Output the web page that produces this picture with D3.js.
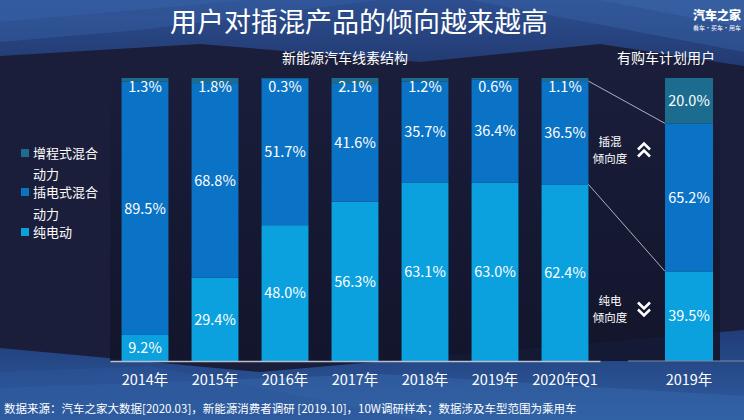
<!DOCTYPE html>
<html><head><meta charset="utf-8">
<script src="https://cdn.jsdelivr.net/npm/d3@7/dist/d3.min.js"></script>
<style>
html,body{margin:0;padding:0;background:#1a1e3b;}
svg{display:block;}
text{font-family:"Microsoft YaHei","Noto Sans CJK SC","Noto Sans",sans-serif;fill:#fff;}
</style></head>
<body>
<script>
// ---- data ----
const categories = ["2014年","2015年","2016年","2017年","2018年","2019年","2020年Q1"];
const erev = [1.3, 1.8, 0.3, 2.1, 1.2, 0.6, 1.1];      // 增程式混合动力
const phev = [89.5, 68.8, 51.7, 41.6, 35.7, 36.4, 36.5]; // 插电式混合动力
const bev  = [9.2, 29.4, 48.0, 56.3, 63.1, 63.0, 62.4];  // 纯电动
const rightCategory = ["2019年"];
const rightErev = [20.0];
const rightPhev = [65.2];
const rightBev  = [39.5];
const seriesNames = ["增程式混合动力","插电式混合动力","纯电动"];
const colors = ["#1b6c8e","#0a73c6","#0aa1de"];

const W = 744, H = 420;
const svg = d3.select("body").append("svg").attr("width", W).attr("height", H);

// ---- background ----
const defs = svg.append("defs");
const g1 = defs.append("linearGradient").attr("id","topg").attr("x1",0).attr("y1",0).attr("x2",0).attr("y2",1);
g1.append("stop").attr("offset","0%").attr("stop-color","#2d4f90");
g1.append("stop").attr("offset","100%").attr("stop-color","#223a72");
const g2 = defs.append("linearGradient").attr("id","botg").attr("x1",0).attr("y1",0).attr("x2",0).attr("y2",1);
g2.append("stop").attr("offset","0%").attr("stop-color","#213c78");
g2.append("stop").attr("offset","100%").attr("stop-color","#2f5ea2");
const g3 = defs.append("linearGradient").attr("id","panelg").attr("x1",0).attr("y1",0).attr("x2",0).attr("y2",1);
g3.append("stop").attr("offset","0%").attr("stop-color","#12142a").attr("stop-opacity",0);
g3.append("stop").attr("offset","50%").attr("stop-color","#12142a").attr("stop-opacity",0.5);
g3.append("stop").attr("offset","100%").attr("stop-color","#12142a").attr("stop-opacity",0.9);

svg.append("rect").attr("width",W).attr("height",H).attr("fill","#1a1e3b");
const poly = (pts, fill, op) => svg.append("polygon").attr("points", pts.map(p=>p.join(",")).join(" ")).attr("fill", fill).attr("opacity", op||1);
poly([[0,0],[744,0],[744,66],[600,44],[420,62],[200,44],[0,56]], "url(#topg)");
poly([[0,0],[380,0],[140,30],[0,42]], "#3560a3", 0.45);
poly([[0,0],[250,0],[0,22]], "#3a68ab", 0.35);
poly([[470,0],[744,0],[744,52]], "#3966a9", 0.4);
poly([[600,0],[744,0],[744,28]], "#4272b5", 0.3);
poly([[0,348],[260,372],[744,330],[744,420],[0,420]], "url(#botg)");
poly([[0,388],[380,374],[744,396],[744,420],[0,420]], "#3566aa", 0.55);
poly([[0,372],[150,366],[420,420],[0,420]], "#2c5699", 0.5);
// soft dark plot panel
svg.append("rect").attr("x",110).attr("y",70).attr("width",610).attr("height",291).attr("fill","url(#panelg)");

// ---- scales ----
const x = d3.scaleBand().domain(categories).range([110,600]).paddingInner(0.33).paddingOuter(0.165);
const xr = d3.scaleBand().domain(rightCategory).range([641,737]).paddingInner(0.5).paddingOuter(0.25);
const y = d3.scaleLinear().domain([0,1]).range([361,78]);

function buildRows(cats, a, b, c){
  return cats.map((cat,i)=>{
    const vals=[a[i],b[i],c[i]];
    const sum=d3.sum(vals);
    return {cat, erev:a[i], phev:b[i], bev:c[i], n0:a[i]/sum, n1:b[i]/sum, n2:c[i]/sum};
  });
}
const rows = buildRows(categories, erev, phev, bev);
const rrows = buildRows(rightCategory, rightErev, rightPhev, rightBev);
const stack = d3.stack().keys(["n2","n1","n0"]);
const rawKey = {n2:"bev", n1:"phev", n0:"erev"};
const colorKey = {n0:colors[0], n1:colors[1], n2:colors[2]};

function drawStack(data, xs){
  const layers = stack(data);
  const g = svg.append("g");
  layers.forEach(layer=>{
    g.selectAll(null).data(layer).enter().append("rect")
      .attr("x", d=>xs(d.data.cat)).attr("width", xs.bandwidth())
      .attr("y", d=>y(d[1])).attr("height", d=>y(d[0])-y(d[1]))
      .attr("fill", colorKey[layer.key]);
  });
  layers.forEach(layer=>{
    g.selectAll(null).data(layer).enter().append("text")
      .attr("x", d=>xs(d.data.cat)+xs.bandwidth()/2)
      .attr("y", d=>{
        const mid=(y(d[0])+y(d[1]))/2;
        return Math.max(mid, y(1)+9);
      })
      .attr("dy","0.36em").attr("text-anchor","middle")
      .style("font-size","14.5px")
      .text(d=>d.data[rawKey[layer.key]].toFixed(1)+"%");
  });
  return layers;
}
const L = drawStack(rows, x);
const LR = drawStack(rrows, xr);

// ---- axes ----
const ax = svg.append("g").attr("transform","translate(0,361)")
  .call(d3.axisBottom(x).tickSize(0).tickPadding(14));
ax.select(".domain").attr("stroke","#b9bfcc").attr("stroke-width",1.5);
ax.selectAll("text").style("font-size","14.5px").attr("fill","#fff").style("font-family",'"Microsoft YaHei","Noto Sans CJK SC",sans-serif');
const axr = svg.append("g").attr("transform","translate(0,361)")
  .call(d3.axisBottom(xr).tickSize(0).tickPadding(14));
axr.select(".domain").remove();
axr.selectAll("text").style("font-size","14.5px").attr("fill","#fff").style("font-family",'"Microsoft YaHei","Noto Sans CJK SC",sans-serif');
svg.append("line").attr("x1",628).attr("x2",744).attr("y1",361).attr("y2",361).attr("stroke","#7d879e").attr("stroke-width",1.5).attr("opacity",0.7);

// ---- connecting lines ----
const lastCat = categories[categories.length-1];
const lastPt = L.find(l=>l.key==="n1")[categories.length-1];
const lastBev = L.find(l=>l.key==="n2")[categories.length-1];
const rPh = LR.find(l=>l.key==="n1")[0];
const rBev = LR.find(l=>l.key==="n2")[0];
const xe = x(lastCat)+x.bandwidth(), xs2 = xr(rightCategory[0]);
svg.append("line").attr("x1",xe).attr("y1",y(lastPt[1])).attr("x2",xs2).attr("y2",y(rPh[1])).attr("stroke","#aab0c4").attr("stroke-width",1);
svg.append("line").attr("x1",xe).attr("y1",y(lastBev[1])).attr("x2",xs2).attr("y2",y(rBev[1])).attr("stroke","#aab0c4").attr("stroke-width",1);

// ---- annotations ----
function ann(lines, cx, cy){
  lines.forEach((t,i)=>svg.append("text").attr("x",cx).attr("y",cy+i*17).attr("dy","0.36em").attr("text-anchor","middle").style("font-size","11.5px").text(t));
}
ann(["插混","倾向度"], 610, 142);
ann(["纯电","倾向度"], 610, 301);
function chevron(cx, cy, up){
  const s = up ? -1 : 1;
  [-3.5, 3.5].forEach(o=>{
    svg.append("path").attr("d", `M${cx-6},${cy+o-s*3} L${cx},${cy+o+s*3} L${cx+6},${cy+o-s*3}`)
      .attr("fill","none").attr("stroke","#fff").attr("stroke-width",2.6).attr("stroke-linejoin","miter");
  });
}
chevron(644, 150, true);
chevron(644, 309, false);

// ---- legend ----
const legendLines = [
  {t:"增程式混合", y:153, sq:0},
  {t:"动力", y:174},
  {t:"插电式混合", y:192, sq:1},
  {t:"动力", y:214},
  {t:"纯电动", y:232, sq:2}
];
legendLines.forEach(d=>{
  if(d.sq!==undefined) svg.append("rect").attr("x",21).attr("y",d.y-4).attr("width",8).attr("height",8).attr("fill",colors[d.sq]);
  svg.append("text").attr("x",33).attr("y",d.y).attr("dy","0.36em").style("font-size","13px").text(d.t);
});

// ---- titles ----
svg.append("text").attr("x",359).attr("y",22).attr("dy","0.36em").attr("text-anchor","middle").style("font-size","27px").text("用户对插混产品的倾向越来越高");
svg.append("text").attr("x",345).attr("y",58).attr("dy","0.36em").attr("text-anchor","middle").style("font-size","14px").text("新能源汽车线素结构");
svg.append("text").attr("x",666).attr("y",58).attr("dy","0.36em").attr("text-anchor","middle").style("font-size","14px").text("有购车计划用户");
svg.append("text").attr("x",717).attr("y",16).attr("dy","0.36em").attr("text-anchor","middle").style("font-size","12px").style("font-weight","900").text("汽车之家");
svg.append("text").attr("x",717).attr("y",28).attr("dy","0.36em").attr("text-anchor","middle").style("font-size","6px").text("看车·买车·用车");
svg.append("text").attr("x",4).attr("y",409).attr("dy","0.36em").style("font-size","11.5px").text("数据来源：汽车之家大数据[2020.03]，新能源消费者调研 [2019.10]，10W调研样本；数据涉及车型范围为乘用车");
</script>
</body></html>
